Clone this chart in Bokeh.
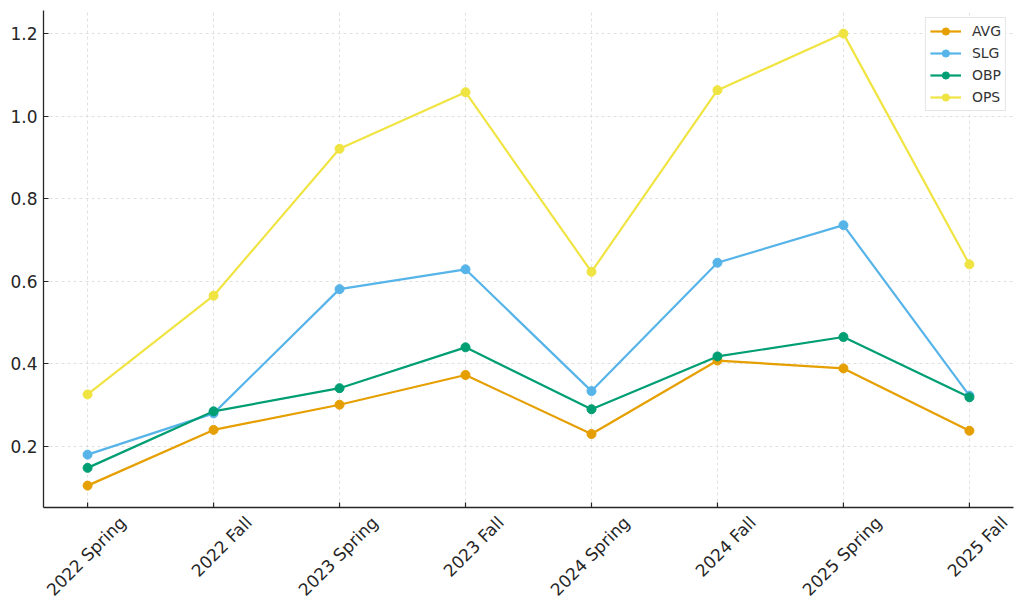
import math
from bokeh.plotting import figure
from bokeh.models import (Range1d, FixedTicker, Legend, LegendItem,
                          LinearAxis, PrintfTickFormatter)
from bokeh.embed import file_html
from bokeh.resources import INLINE

terms = ["2022 Spring", "2022 Fall", "2023 Spring", "2023 Fall",
         "2024 Spring", "2024 Fall", "2025 Spring", "2025 Fall"]
avg = [0.105, 0.240, 0.301, 0.373, 0.230, 0.408, 0.389, 0.238]
slg = [0.180, 0.280, 0.581, 0.629, 0.334, 0.645, 0.736, 0.323]
obp = [0.148, 0.285, 0.341, 0.440, 0.290, 0.418, 0.465, 0.319]
ops = [0.326, 0.565, 0.921, 1.058, 0.623, 1.063, 1.200, 0.641]
y_ticks = [0.2, 0.4, 0.6, 0.8, 1.0, 1.2]

series = [("AVG", avg, "#E69F00"), ("SLG", slg, "#56B4E9"),
          ("OBP", obp, "#009E73"), ("OPS", ops, "#F0E442")]

xs = list(range(len(terms)))
PAD = 0.35
SHIFT = 0.28  # moves rotated labels so they are centred on their ticks
Y0, Y1 = 0.052, 1.256

p = figure(frame_width=970, frame_height=497,
           x_range=Range1d(-PAD, len(terms) - 1 + PAD),
           y_range=Range1d(Y0, Y1),
           output_backend="svg", toolbar_location=None,
           min_border_left=43, min_border_top=10, min_border_right=3,
           min_border_bottom=20)
p.outline_line_color = None
p.background_fill_color = "white"

FONT = "DejaVu Sans"
DARK = "#262626"

# primary x axis hidden; a shifted axis carries the rotated labels
p.xaxis[0].visible = False

yax = p.yaxis[0]
yax.axis_line_color = DARK
yax.axis_line_width = 1.3
yax.major_tick_line_color = DARK
yax.major_tick_line_width = 1.2
yax.major_tick_out = 0
yax.major_tick_in = 5
yax.minor_tick_line_color = None
yax.major_label_text_font = FONT
yax.major_label_text_font_size = "17px"
yax.major_label_text_color = DARK
yax.ticker = FixedTicker(ticks=y_ticks)
yax.formatter = PrintfTickFormatter(format="%.1f")
yax.major_label_standoff = 6

p.extra_x_ranges = {"lab": Range1d(-PAD - SHIFT, len(terms) - 1 + PAD - SHIFT)}
lab_axis = LinearAxis(x_range_name="lab", ticker=FixedTicker(ticks=xs),
                      major_label_overrides={i: t for i, t in enumerate(terms)},
                      major_label_orientation=math.pi / 4,
                      axis_line_color=DARK, axis_line_width=1.3,
                      major_tick_line_color=None,
                      minor_tick_line_color=None,
                      major_label_text_font=FONT,
                      major_label_text_font_size="17px",
                      major_label_text_color=DARK,
                      major_label_standoff=6)
p.add_layout(lab_axis, "below")

p.xgrid.ticker = FixedTicker(ticks=xs)
p.ygrid.ticker = FixedTicker(ticks=y_ticks)
for g in (p.xgrid[0], p.ygrid[0]):
    g.grid_line_color = "#dcdcdc"
    g.grid_line_dash = "3 3"
    g.grid_line_width = 0.9

# inward x tick marks at the category positions, sitting on the bottom axis
p.scatter(xs, [Y0] * len(xs), marker="dash", angle=math.pi / 2, size=10,
          line_color=DARK, line_width=1.2)

items = []
for name, vals, col in series:
    r1 = p.line(xs, vals, line_color=col, line_width=2.2)
    r2 = p.scatter(xs, vals, size=9, fill_color=col, line_color=col)
    items.append(LegendItem(label=name, renderers=[r1, r2]))

legend = Legend(items=items, location="top_right",
                label_text_font=FONT, label_text_font_size="14px",
                label_text_color="#333333",
                border_line_color="#cccccc", border_line_width=1,
                background_fill_alpha=0.9,
                glyph_width=31, glyph_height=18, spacing=4,
                padding=4, margin=7, label_standoff=11)
p.add_layout(legend)

open("out.html", "w").write(file_html(p, INLINE))
